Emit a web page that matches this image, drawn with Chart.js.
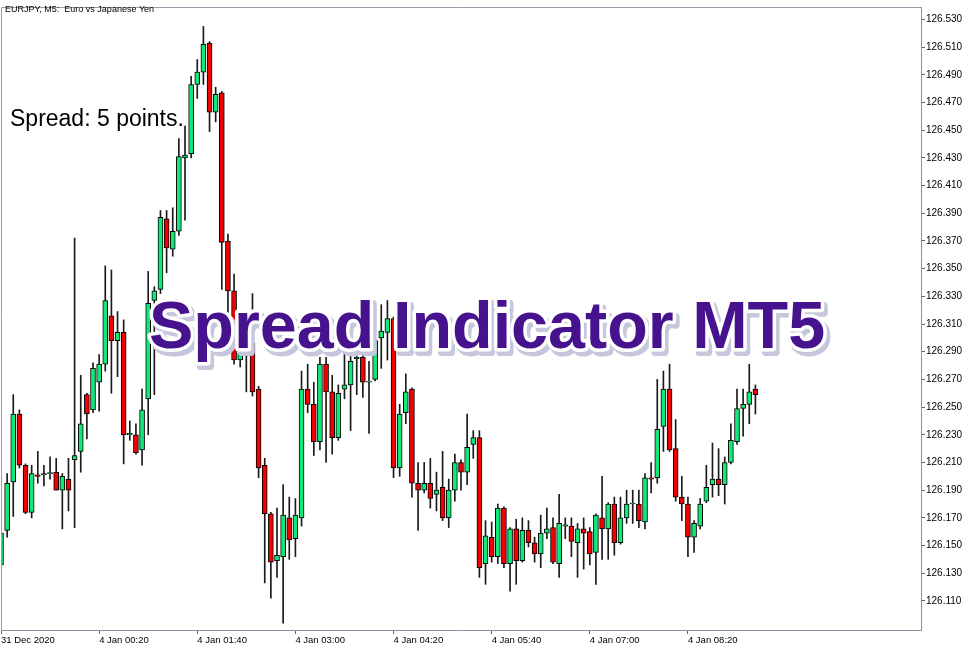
<!DOCTYPE html>
<html>
<head>
<meta charset="utf-8">
<title>EURJPY M5 - Spread Indicator MT5</title>
<script src="https://cdn.jsdelivr.net/npm/chart.js@4.4.1/dist/chart.umd.min.js"></script>
<style>
    html, body { margin: 0; padding: 0; background: #fff; }
    #wrap { width: 977px; height: 650px; }
</style>
</head>
<body>
<div id="wrap"><canvas id="priceChart" width="977" height="650"></canvas></div>
<script>
// EURJPY M5 candles (one entry per 5 minute bar)
const opens = [
    126.136, 126.161, 126.196, 126.245, 126.208, 126.174, 126.201, 126.201, 126.202, 126.203,
    126.190, 126.198, 126.212, 126.218, 126.259, 126.248, 126.268, 126.281, 126.316, 126.298,
    126.304, 126.230, 126.230, 126.219, 126.256, 126.327, 126.335, 126.386, 126.364, 126.377,
    126.430, 126.433, 126.483, 126.492, 126.513, 126.463, 126.477, 126.370, 126.334, 126.284,
    126.289, 126.296, 126.263, 126.208, 126.173, 126.139, 126.142, 126.170, 126.155, 126.170,
    126.263, 126.252, 126.225, 126.281, 126.261, 126.228, 126.263, 126.266, 126.285, 126.286,
    126.268, 126.270, 126.300, 126.304, 126.314, 126.206, 126.246, 126.263, 126.195, 126.190,
    126.195, 126.187, 126.192, 126.170, 126.190, 126.210, 126.203, 126.223, 126.228, 126.137,
    126.156, 126.142, 126.177, 126.137, 126.162, 126.139, 126.161, 126.152, 126.144, 126.159,
    126.163, 126.137, 126.164, 126.164, 126.152, 126.162, 126.160, 126.145, 126.170, 126.162,
    126.180, 126.152, 126.170, 126.180, 126.180, 126.167, 126.199, 126.199, 126.236, 126.263,
    126.220, 126.185, 126.180, 126.156, 126.164, 126.182, 126.194, 126.198, 126.194, 126.210,
    126.225, 126.249, 126.252, 126.263
];
const highs = [
    126.161, 126.202, 126.259, 126.248, 126.209, 126.208, 126.218, 126.208, 126.214, 126.213,
    126.202, 126.213, 126.372, 126.273, 126.260, 126.282, 126.288, 126.352, 126.349, 126.319,
    126.313, 126.240, 126.238, 126.263, 126.348, 126.337, 126.392, 126.392, 126.394, 126.444,
    126.453, 126.489, 126.501, 126.525, 126.514, 126.481, 126.478, 126.375, 126.346, 126.294,
    126.297, 126.332, 126.265, 126.213, 126.174, 126.177, 126.194, 126.185, 126.184, 126.276,
    126.281, 126.268, 126.286, 126.286, 126.273, 126.266, 126.289, 126.289, 126.290, 126.290,
    126.283, 126.321, 126.324, 126.327, 126.315, 126.252, 126.274, 126.264, 126.210, 126.210,
    126.213, 126.203, 126.218, 126.198, 126.216, 126.212, 126.245, 126.233, 126.233, 126.168,
    126.167, 126.180, 126.178, 126.163, 126.169, 126.170, 126.168, 126.156, 126.172, 126.177,
    126.170, 126.187, 126.170, 126.170, 126.166, 126.170, 126.163, 126.173, 126.200, 126.181,
    126.185, 126.185, 126.190, 126.190, 126.190, 126.202, 126.210, 126.270, 126.276, 126.281,
    126.241, 126.200, 126.185, 126.168, 126.184, 126.208, 126.224, 126.220, 126.214, 126.238,
    126.263, 126.263, 126.281, 126.266
];
const lows = [
    126.134, 126.156, 126.171, 126.206, 126.173, 126.170, 126.195, 126.193, 126.198, 126.190,
    126.162, 126.175, 126.163, 126.203, 126.227, 126.246, 126.247, 126.276, 126.260, 126.272,
    126.209, 126.226, 126.216, 126.208, 126.230, 126.259, 126.332, 126.347, 126.359, 126.374,
    126.385, 126.430, 126.473, 126.483, 126.449, 126.456, 126.335, 126.316, 126.281, 126.279,
    126.261, 126.258, 126.199, 126.123, 126.112, 126.127, 126.094, 126.140, 126.142, 126.164,
    126.246, 126.215, 126.219, 126.210, 126.216, 126.226, 126.256, 126.233, 126.259, 126.257,
    126.231, 126.269, 126.278, 126.284, 126.199, 126.200, 126.238, 126.185, 126.161, 126.188,
    126.177, 126.175, 126.168, 126.163, 126.182, 126.190, 126.194, 126.213, 126.127, 126.122,
    126.138, 126.137, 126.134, 126.117, 126.122, 126.138, 126.149, 126.138, 126.134, 126.155,
    126.137, 126.127, 126.155, 126.142, 126.127, 126.133, 126.136, 126.122, 126.140, 126.140,
    126.143, 126.151, 126.166, 126.166, 126.163, 126.162, 126.188, 126.195, 126.218, 126.218,
    126.182, 126.168, 126.142, 126.145, 126.162, 126.181, 126.185, 126.186, 126.180, 126.209,
    126.223, 126.229, 126.238, 126.245
];
const closes = [
    126.159, 126.195, 126.245, 126.208, 126.174, 126.202, 126.200, 126.202, 126.202, 126.190,
    126.200, 126.190, 126.215, 126.238, 126.245, 126.278, 126.281, 126.327, 126.298, 126.304,
    126.230, 126.231, 126.217, 126.248, 126.325, 126.334, 126.387, 126.365, 126.377, 126.431,
    126.432, 126.483, 126.492, 126.512, 126.463, 126.476, 126.369, 126.334, 126.284, 126.289,
    126.287, 126.261, 126.206, 126.173, 126.138, 126.143, 126.172, 126.154, 126.172, 126.263,
    126.252, 126.225, 126.281, 126.261, 126.228, 126.260, 126.266, 126.283, 126.286, 126.268,
    126.268, 126.298, 126.305, 126.314, 126.206, 126.245, 126.261, 126.195, 126.190, 126.195,
    126.184, 126.190, 126.170, 126.190, 126.210, 126.203, 126.221, 126.228, 126.134, 126.157,
    126.142, 126.177, 126.137, 126.162, 126.139, 126.161, 126.152, 126.144, 126.159, 126.162,
    126.138, 126.166, 126.165, 126.153, 126.162, 126.159, 126.144, 126.172, 126.162, 126.180,
    126.152, 126.170, 126.180, 126.180, 126.168, 126.199, 126.198, 126.234, 126.263, 126.219,
    126.185, 126.180, 126.156, 126.166, 126.180, 126.192, 126.198, 126.194, 126.210, 126.226,
    126.249, 126.252, 126.261, 126.259
];

// time axis: bar slots visible on screen and the labelled slots
const slotCount = 151;
const xTickIndex = [0, 16, 32, 48, 64, 80, 96, 112];
const xTickText = ['31 Dec 2020', '4 Jan 00:20', '4 Jan 01:40', '4 Jan 03:00',
                   '4 Jan 04:20', '4 Jan 05:40', '4 Jan 07:00', '4 Jan 08:20'];

// price axis
const priceMin = 126.089;
const priceMax = 126.539;
const yTicks = [126.110, 126.130, 126.150, 126.170, 126.190, 126.210, 126.230, 126.250,
                126.270, 126.290, 126.310, 126.330, 126.350, 126.370, 126.390, 126.410,
                126.430, 126.450, 126.470, 126.490, 126.510, 126.530];

const symbolTitle = 'EURJPY, M5:  Euro vs Japanese Yen';
const spreadText = 'Spread: 5 points.';
const bannerText = 'Spread Indicator MT5';

const bullColor = '#12e878';
const bearColor = '#f20000';

const slots = Array.from({ length: slotCount }, (_, i) => String(i));
const bodyColors = opens.map((o, i) => (closes[i] >= o ? bullColor : bearColor));

/**
 * Draws the chart frame and the texts that sit on top of the candles.
 */
const overlayPlugin = {
    id: 'overlayText',
    afterDraw(chart) {
        const ctx = chart.ctx;
        const area = chart.chartArea;
        ctx.save();

        // left and top frame lines
        ctx.strokeStyle = '#9c9cac';
        ctx.lineWidth = 1;
        ctx.beginPath();
        ctx.moveTo(area.left + 0.5, area.bottom);
        ctx.lineTo(area.left + 0.5, area.top + 0.5);
        ctx.lineTo(area.right, area.top + 0.5);
        ctx.stroke();

        ctx.textAlign = 'left';
        ctx.textBaseline = 'alphabetic';

        ctx.fillStyle = '#000';
        ctx.font = '9px "Liberation Sans"';
        ctx.fillText(symbolTitle, 5, 12);

        ctx.font = '23px "Liberation Sans"';
        ctx.fillText(spreadText, 10, 126);

        // big banner with white outline and soft shadow
        const bx = 149, by = 348;
        ctx.font = 'bold 66.5px "Liberation Sans"';
        ctx.lineJoin = 'round';
        ctx.strokeStyle = '#c6c6dc';
        ctx.lineWidth = 8;
        ctx.strokeText(bannerText, bx + 3, by + 4);
        ctx.fillStyle = '#c6c6dc';
        ctx.fillText(bannerText, bx + 3, by + 4);
        ctx.strokeStyle = '#ffffff';
        ctx.lineWidth = 7;
        ctx.strokeText(bannerText, bx, by);
        ctx.fillStyle = '#46128e';
        ctx.fillText(bannerText, bx, by);

        ctx.restore();
    },
};

const axisFont = { family: 'Liberation Sans', size: 10 };

new Chart(document.getElementById('priceChart').getContext('2d'), {
    type: 'bar',
    data: {
        labels: slots,
        datasets: [
            {
                label: 'body',
                data: opens.map((o, i) => [o, closes[i]]),
                backgroundColor: bodyColors,
                borderColor: '#000',
                borderWidth: 1,
                borderSkipped: false,
                barThickness: 5,
                minBarLength: 1,
                grouped: false,
                order: 0,
            },
            {
                label: 'wick',
                data: lows.map((l, i) => [l, highs[i]]),
                backgroundColor: '#1a1a1a',
                borderWidth: 0,
                barThickness: 1,
                grouped: false,
                order: 1,
            },
        ],
    },
    options: {
        responsive: false,
        animation: false,
        layout: { padding: { left: 1, top: 2, right: 0, bottom: 0 } },
        plugins: {
            legend: { display: false },
            tooltip: { enabled: false },
        },
        scales: {
            x: {
                type: 'category',
                offset: false,
                afterBuildTicks: (scale) => {
                    scale.ticks = xTickIndex.map((v) => ({ value: v }));
                },
                afterFit: (scale) => {
                    scale.height = 20;
                },
                ticks: {
                    autoSkip: false,
                    maxRotation: 0,
                    minRotation: 0,
                    align: 'start',
                    padding: 1,
                    color: '#000',
                    font: { family: 'Liberation Sans', size: 9.5 },
                    callback: (v) => xTickText[xTickIndex.indexOf(v)],
                },
                grid: { drawOnChartArea: false, offset: false, tickLength: 4, color: '#666' },
                border: { color: '#8f8fa2' },
            },
            y: {
                position: 'right',
                min: priceMin,
                max: priceMax,
                afterBuildTicks: (scale) => {
                    scale.ticks = yTicks.map((v) => ({ value: v }));
                },
                afterFit: (scale) => {
                    scale.width = 56;
                },
                ticks: {
                    autoSkip: false,
                    padding: 1,
                    color: '#000',
                    font: axisFont,
                    callback: (v) => Number(v).toFixed(3),
                },
                grid: { drawOnChartArea: false, tickLength: 4, color: '#666' },
                border: { color: '#8f8fa2' },
            },
        },
    },
    plugins: [overlayPlugin],
});
</script>
</body>
</html>
